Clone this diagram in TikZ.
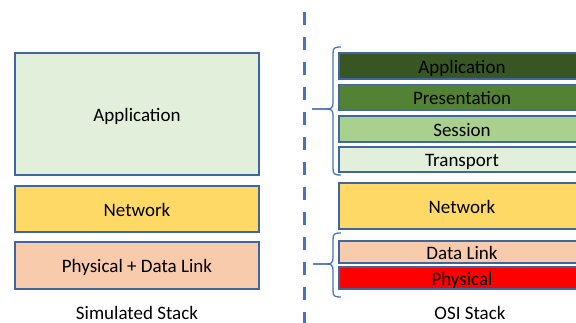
\documentclass[tikz,border=0pt]{standalone}
\usepackage{fontspec}
\setmainfont{Carlito}
\definecolor{bordc}{HTML}{41659E}
\definecolor{bluec}{HTML}{4472C4}
\definecolor{lgreen}{HTML}{E2EFDA}
\definecolor{mgreen}{HTML}{A9D08E}
\definecolor{dgreen}{HTML}{548235}
\definecolor{vdgreen}{HTML}{375623}
\definecolor{yell}{HTML}{FFD966}
\definecolor{peach}{HTML}{F8CBAD}
\definecolor{redc}{HTML}{FF0000}
\tikzset{
  layer/.style={draw=bordc, line width=1.2pt, rectangle, inner sep=0pt,
    font=\fontsize{19}{21}\selectfont, text=black, text height=14.5pt, text depth=0pt},
  leftlayer/.style={layer, minimum width=244pt},
  rightlayer/.style={layer, minimum width=246pt},
  caption/.style={font=\fontsize{19}{21}\selectfont, text=black, inner sep=0pt, anchor=base},
  bracec/.style={draw=bluec, line width=1.3pt},
  divider/.style={draw=bluec, line width=3pt, dash pattern=on 13pt off 12pt}
}
\begin{document}
\begin{tikzpicture}[x=1pt,y=-1pt]
\useasboundingbox (0,0) rectangle (576,323);
\begin{scope}
\clip (0,0) rectangle (576,323);
% left stack
\node[leftlayer, fill=lgreen, minimum height=122pt] (lapp) at (137,114) {Application};
\node[leftlayer, fill=yell, minimum height=46pt] (lnet) at (137,209) {Network};
\node[leftlayer, fill=peach, minimum height=47pt] (lphy) at (137,265.5) {Physical + Data Link};
% divider
\coordinate (dtop) at (304,12);
\coordinate (dbot) at (304,330);
\draw[divider] (dtop) -- (dbot);
% right stack
\node[rightlayer, fill=vdgreen, minimum height=26pt] (rapp) at (462,66) {Application};
\node[rightlayer, fill=dgreen, minimum height=26pt] (rpre) at (462,97.5) {Presentation};
\node[rightlayer, fill=mgreen, minimum height=26pt] (rses) at (462,129) {Session};
\node[rightlayer, fill=lgreen, minimum height=25pt] (rtra) at (462,159.5) {Transport};
\node[rightlayer, fill=yell, minimum height=46pt] (rnet) at (462,206) {Network};
\node[rightlayer, fill=peach, minimum height=22pt] (rdl) at (462,252) {Data Link};
\node[rightlayer, fill=redc, minimum height=22pt] (rphy) at (462,278) {Physical};
% braces
\draw[bracec] (341,47) .. controls (334,47) and (333,48) .. (333,54) -- (333,103)
  .. controls (333,108) and (331,109) .. (326,109) -- (312,109);
\draw[bracec] (312,109) -- (326,109) .. controls (331,109) and (333,110) .. (333,115)
  -- (333,168) .. controls (333,174) and (334,175) .. (341,175);
\draw[bracec] (341,233) .. controls (334,233) and (333,234) .. (333,240) -- (333,258)
  .. controls (333,263) and (331,264) .. (326,264) -- (313,264);
\draw[bracec] (313,264) -- (326,264) .. controls (331,264) and (333,265) .. (333,270)
  -- (333,290) .. controls (333,296) and (334,297) .. (341,297);
\end{scope}
% captions
\node[caption] (lcap) at (137,319.5) {Simulated Stack};
\node[caption] (rcap) at (470,319.5) {OSI Stack};
\end{tikzpicture}
\end{document}
